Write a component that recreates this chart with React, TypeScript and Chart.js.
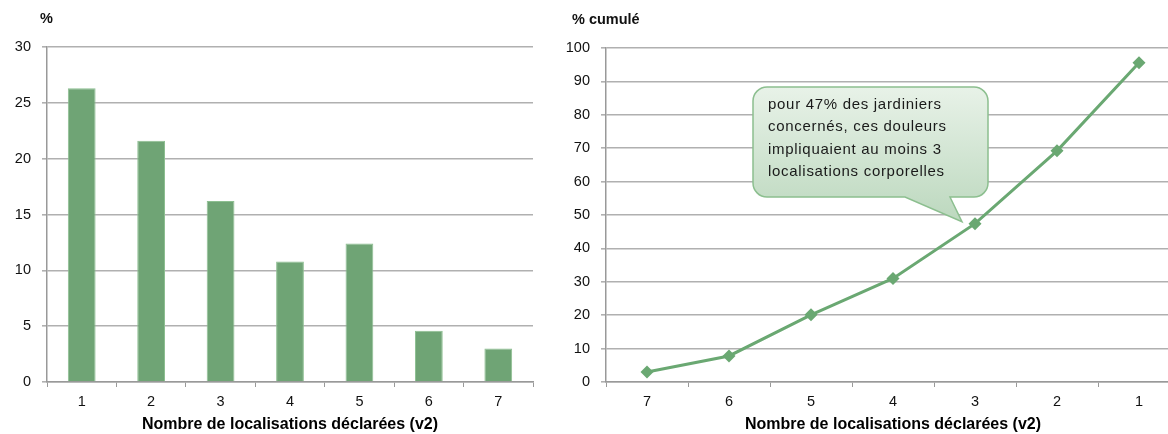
import React, { useEffect, useRef } from "react";
import { Chart, registerables } from "chart.js";
Chart.register(...registerables);

const barCategories = ["1", "2", "3", "4", "5", "6", "7"];
const barValues = [26.3, 21.6, 16.2, 10.8, 12.4, 4.6, 3.0];
const lineCategories = ["7", "6", "5", "4", "3", "2", "1"];
const lineValues = [3.0, 7.8, 20.1, 31.0, 47.4, 69.2, 95.6];
const xAxisTitle = "Nombre de localisations déclarées (v2)";
const leftUnit = "%";
const rightUnit = "% cumulé";
const calloutLines = [
  "pour 47% des jardiniers",
  "concernés, ces douleurs",
  "impliquaient au moins 3",
  "localisations corporelles",
];
const calloutIndex = 4;

const FONT = "'Liberation Sans', Arial, sans-serif";
const GREEN = "#6fa475";
const GRID = "#b0b0b0";
const AXIS = "#999999";

function unitPlugin(text: string, dx: number) {
  return {
    id: "unitLabel",
    afterDraw(chart: any) {
      const { ctx, chartArea } = chart;
      ctx.save();
      ctx.font = `bold 14.5px ${FONT}`;
      ctx.fillStyle = "#111";
      ctx.textBaseline = "middle";
      ctx.textAlign = "left";
      ctx.fillText(text, chartArea.left + dx, chartArea.top - 28);
      ctx.restore();
    },
  };
}

const calloutPlugin = {
  id: "callout",
  afterDraw(chart: any) {
    const { ctx } = chart;
    const xs = chart.scales.x;
    const ys = chart.scales.y;
    const tipX = xs.getPixelForValue(calloutIndex) - 13;
    const tipY = ys.getPixelForValue(lineValues[calloutIndex]) - 2;
    const left = 193, top = 87, right = 428, bottom = 197, r = 14;
    const tailL = 345, tailR = 390;
    ctx.save();
    ctx.beginPath();
    ctx.moveTo(left + r, top);
    ctx.lineTo(right - r, top);
    ctx.arcTo(right, top, right, top + r, r);
    ctx.lineTo(right, bottom - r);
    ctx.arcTo(right, bottom, right - r, bottom, r);
    ctx.lineTo(tailR, bottom);
    ctx.lineTo(tipX, tipY);
    ctx.lineTo(tailL, bottom);
    ctx.lineTo(left + r, bottom);
    ctx.arcTo(left, bottom, left, bottom - r, r);
    ctx.lineTo(left, top + r);
    ctx.arcTo(left, top, left + r, top, r);
    ctx.closePath();
    const g = ctx.createLinearGradient(0, top, 0, tipY);
    g.addColorStop(0, "#e8f2e8");
    g.addColorStop(1, "#bcd8be");
    ctx.fillStyle = g;
    ctx.fill();
    ctx.strokeStyle = "#8cbf8f";
    ctx.lineWidth = 1.5;
    ctx.stroke();
    ctx.fillStyle = "#1a1a1a";
    ctx.font = `15px ${FONT}`;
    (ctx as any).letterSpacing = "0.7px";
    ctx.textBaseline = "middle";
    ctx.textAlign = "left";
    calloutLines.forEach((t, i) => {
      ctx.fillText(t, 208, 105 + i * 22.2);
    });
    (ctx as any).letterSpacing = "0px";
    ctx.restore();
  },
};

function baseScales(max: number, step: number, yWidth: number) {
  return {
    x: {
      offset: true,
      grid: {
        display: true,
        drawOnChartArea: false,
        drawTicks: true,
        tickLength: 5,
        color: AXIS,
        offset: true,
      },
      border: { display: true, color: AXIS, width: 1.5 },
      ticks: { color: "#111", font: { family: FONT, size: 14.5 }, padding: 6 },
      title: {
        display: true,
        text: xAxisTitle,
        color: "#000",
        font: { family: FONT, size: 16, weight: "bold" },
        padding: { top: 0, bottom: 0 },
      },
      afterFit(scale: any) {
        scale.height = 52;
      },
    },
    y: {
      min: 0,
      max,
      ticks: {
        stepSize: step,
        color: "#111",
        font: { family: FONT, size: 14.5 },
        padding: 11,
      },
      grid: {
        color: GRID,
        lineWidth: 1.6,
        drawTicks: true,
        tickLength: 5,
        tickColor: GRID,
      },
      border: { display: true, color: AXIS, width: 1.5 },
      afterFit(scale: any) {
        scale.width = yWidth;
      },
    },
  };
}

function BarPanel() {
  const ref = useRef<HTMLCanvasElement>(null);
  useEffect(() => {
    const chart = new Chart(ref.current!, {
      type: "bar",
      data: {
        labels: barCategories,
        datasets: [
          {
            data: barValues,
            backgroundColor: GREEN,
            borderColor: "#8dbf91",
            borderWidth: 1,
            barPercentage: 0.4,
            categoryPercentage: 1,
          },
        ],
      },
      options: {
        responsive: false,
        animation: false,
        layout: { padding: { top: 47, right: 27, bottom: 0, left: 0 } },
        plugins: { legend: { display: false }, tooltip: { enabled: false } },
        scales: baseScales(30, 5, 47) as any,
      },
      plugins: [unitPlugin(leftUnit, -7)],
    });
    return () => chart.destroy();
  }, []);
  return (
    <canvas
      ref={ref}
      width={560}
      height={434}
      style={{ position: "absolute", left: 0, top: 0, width: 560, height: 434 }}
    />
  );
}

function LinePanel() {
  const ref = useRef<HTMLCanvasElement>(null);
  useEffect(() => {
    const chart = new Chart(ref.current!, {
      type: "line",
      data: {
        labels: lineCategories,
        datasets: [
          {
            data: lineValues,
            borderColor: "#6aa872",
            backgroundColor: "#6aa872",
            borderWidth: 3,
            pointStyle: "rectRot",
            pointRadius: 6.5,
            pointBorderWidth: 0,
            tension: 0,
          },
        ],
      },
      options: {
        responsive: false,
        animation: false,
        layout: { padding: { top: 48, right: 8, bottom: 0, left: 0 } },
        plugins: { legend: { display: false }, tooltip: { enabled: false } },
        scales: baseScales(100, 10, 46) as any,
      },
      plugins: [unitPlugin(rightUnit, -34), calloutPlugin],
    });
    return () => chart.destroy();
  }, []);
  return (
    <canvas
      ref={ref}
      width={628}
      height={434}
      style={{ position: "absolute", left: 560, top: 0, width: 628, height: 434 }}
    />
  );
}

export default function App() {
  return (
    <div
      style={{
        position: "fixed",
        left: 0,
        top: 0,
        width: 1168,
        height: 434,
        overflow: "hidden",
        background: "#fff",
      }}
    >
      <BarPanel />
      <LinePanel />
    </div>
  );
}
